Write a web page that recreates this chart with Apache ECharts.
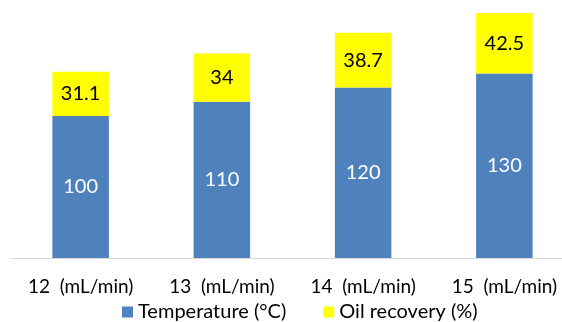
<!DOCTYPE html>
<html>
<head>
<meta charset="utf-8">
<script src="https://cdn.jsdelivr.net/npm/echarts@6/dist/echarts.min.js"></script>
<style>
  html, body { margin: 0; padding: 0; background: #fff; overflow: hidden; }
  body { width: 562px; height: 322px; }
  /* drawing surface is a little wider than the page so the plot area bleeds off the right edge */
  #chart { width: 575px; height: 322px; }
</style>
</head>
<body>
<div id="chart"></div>
<script>
// Flow rates on the x axis
const categories = ['12  (mL/min)', '13  (mL/min)', '14  (mL/min)', '15  (mL/min)'];
// Stacked segments
const temperature = [100, 110, 120, 130];
const oilRecovery = [31.1, 34, 38.7, 42.5];

const FONT = 'Lato, "Noto Sans", sans-serif';

const chart = echarts.init(document.getElementById('chart'));
chart.setOption({
  backgroundColor: '#ffffff',
  animation: false,
  grid: { left: 10, right: 0, top: 2.4, bottom: 64 },
  xAxis: {
    type: 'category',
    data: categories,
    axisLine: { show: true, lineStyle: { color: '#d9d9d9', width: 1 } },
    axisTick: { show: false },
    axisLabel: { color: '#000', fontFamily: FONT, fontSize: 19, margin: 19 }
  },
  yAxis: {
    type: 'value',
    min: 0,
    max: 180,
    show: false,
    splitLine: { show: false }
  },
  legend: {
    top: 302,
    left: 122,
    padding: 0,
    itemWidth: 11,
    itemHeight: 11,
    itemGap: 37,
    icon: 'rect',
    textStyle: { color: '#000', fontFamily: FONT, fontSize: 20 },
    data: ['Temperature (°C)', 'Oil recovery (%)']
  },
  series: [
    {
      name: 'Temperature (°C)',
      type: 'bar',
      stack: 'total',
      barWidth: '40%',
      data: temperature,
      itemStyle: { color: '#4f81bd' },
      label: {
        show: true,
        position: 'inside',
        color: '#ffffff',
        fontFamily: FONT,
        fontSize: 20
      }
    },
    {
      name: 'Oil recovery (%)',
      type: 'bar',
      stack: 'total',
      barWidth: '40%',
      data: oilRecovery,
      itemStyle: { color: '#ffff00' },
      label: {
        show: true,
        position: 'inside',
        color: '#000000',
        fontFamily: FONT,
        fontSize: 20
      }
    }
  ]
});
</script>
</body>
</html>
